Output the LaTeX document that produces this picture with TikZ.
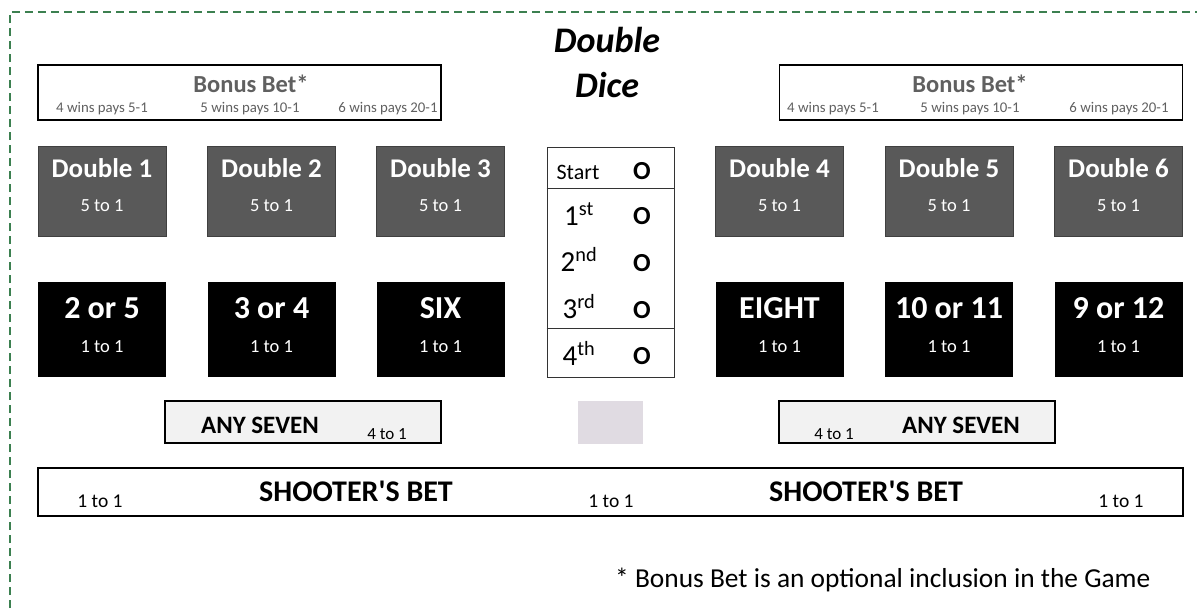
\documentclass[tikz,border=0pt]{standalone}
\usepackage{fontspec}
\setmainfont{Carlito}
\definecolor{tablegreen}{RGB}{60,128,80}
\definecolor{darkcell}{RGB}{89,89,89}
\definecolor{bonustext}{RGB}{96,96,96}
\definecolor{sevenfill}{RGB}{242,242,242}
\definecolor{markfill}{RGB}{224,219,226}

\newcommand{\fs}[1]{\fontsize{#1}{#1}\selectfont}

\tikzset{
  bigbox/.style={draw=black, line width=1.6pt},
  doublecell/.style={draw=black!75, fill=darkcell, line width=1pt, minimum width=128pt, minimum height=90pt},
  numbercell/.style={fill=black, minimum width=128pt, minimum height=95pt},
  celltitle/.style={anchor=base, inner sep=0pt, text=white, font=\bfseries\fs{#1}},
  cellodds/.style={anchor=base, inner sep=0pt, text=white, font=\fs{18.5}},
  plaintext/.style={anchor=base, inner sep=0pt, font=\fs{#1}},
  boldtext/.style={anchor=base, inner sep=0pt, font=\bfseries\fs{#1}},
}

\newcommand{\doublebet}[3]{
            \node[doublecell] (#1) at (#2,191) {};
            \node[celltitle=27] (#1t) at (#2,177) {Double #3};
            \node[cellodds] (#1o) at (#2,211) {5 to 1};
        }
\newcommand{\numberbet}[3]{
            \node[numbercell] (#1) at (#2,329.5) {};
            \node[celltitle=32] (#1t) at (#2,318) {#3};
            \node[cellodds] (#1o) at (#2,352) {1 to 1};
        }
\newcommand{\bonusbox}[5]{
            \node[bigbox, minimum width=403pt, minimum height=55pt] (#1) at (#2,92.5) {};
            \node[boldtext=24.5, text=bonustext] (#1t) at (#3,92) {Bonus Bet*};
            \node[plaintext=14.8, text=bonustext] (#1a) at (#4,112) {4 wins pays 5-1};
            \node[plaintext=14.8, text=bonustext] (#1b) at (#5,112) {5 wins pays 10-1};
        }

\begin{document}
\begin{tikzpicture}[x=1pt, y=-1pt]
        \useasboundingbox (0,0) rectangle (1197,608);
        \draw[tablegreen, line width=1.3pt, dash pattern=on 8pt off 5pt] (10,608) -- (10,12) -- (1197,12);

        % title
        \node[boldtext=36, font=\bfseries\itshape\fs{36}] (title1) at (607,52) {Double};
        \node[boldtext=36, font=\bfseries\itshape\fs{36}] (title2) at (607,97) {Dice};

        % bonus bets
        \bonusbox{bonusL}{239.5}{251}{102}{250}
        \node[plaintext=14.8, text=bonustext] (bonusLc) at (388,112) {6 wins pays 20-1};
        \bonusbox{bonusR}{981}{970}{833}{970}
        \node[plaintext=14.8, text=bonustext] (bonusRc) at (1119,112) {6 wins pays 20-1};

        % doubles
        \doublebet{d1}{102}{1}
        \doublebet{d2}{271.5}{2}
        \doublebet{d3}{440.5}{3}
        \doublebet{d4}{779.5}{4}
        \doublebet{d5}{949}{5}
        \doublebet{d6}{1118.5}{6}

        % numbers
        \numberbet{n1}{102}{2 or 5}
        \numberbet{n2}{271.5}{3 or 4}
        \numberbet{n3}{440.5}{SIX}
        \numberbet{n4}{779.5}{EIGHT}
        \numberbet{n5}{949}{10 or 11}
        \numberbet{n6}{1118.5}{9 or 12}

        % roll track
        \node[draw=black!80, line width=0.8pt, minimum width=127pt, minimum height=230pt] (track) at (610.5,262) {};
        \draw[black!80, line width=1pt] (track.west |- 0,188) -- (track.east |- 0,188);
        \draw[black!80, line width=1pt] (track.west |- 0,328) -- (track.east |- 0,328);
        \node[plaintext=22] (start) at (578,179) {Start};
        \node[boldtext=26] (o0) at (642,179) {O};
        \node[plaintext=29] (r1) at (579,225) {1\textsuperscript{st}};
        \node[boldtext=26] (o1) at (642,224) {O};
        \node[plaintext=29] (r2) at (579,271) {2\textsuperscript{nd}};
        \node[boldtext=26] (o2) at (642,271) {O};
        \node[plaintext=29] (r3) at (579,318) {3\textsuperscript{rd}};
        \node[boldtext=26] (o3) at (642,318) {O};
        \node[plaintext=29] (r4) at (579,365) {4\textsuperscript{th}};
        \node[boldtext=26] (o4) at (642,364) {O};

        % any seven
        \node[bigbox, line width=1.3pt, fill=sevenfill, minimum width=276pt, minimum height=42pt] (sevenL) at (303,422) {};
        \node[boldtext=25] (sevenLt) at (260,433) {ANY SEVEN};
        \node[plaintext=17] (sevenLo) at (387,439) {4 to 1};
        \node[bigbox, line width=1.3pt, fill=sevenfill, minimum width=276pt, minimum height=42pt] (sevenR) at (917,422) {};
        \node[plaintext=17] (sevenRo) at (834,439) {4 to 1};
        \node[boldtext=25] (sevenRt) at (961,433) {ANY SEVEN};
        \node[fill=markfill, minimum width=65pt, minimum height=43pt] (marker) at (610.5,422.5) {};

        % shooter
        \node[bigbox, minimum width=1145pt, minimum height=48pt] (shooter) at (610.5,492) {};
        \node[plaintext=19.5] (s1) at (100,507) {1 to 1};
        \node[boldtext=30] (st1) at (356,501) {SHOOTER\textquotesingle S BET};
        \node[plaintext=19.5] (s2) at (611,507) {1 to 1};
        \node[boldtext=30] (st2) at (866,501) {SHOOTER\textquotesingle S BET};
        \node[plaintext=19.5] (s3) at (1121,507) {1 to 1};

        \node[plaintext=27.4, anchor=base west] (note) at (615,587) {* Bonus Bet is an optional inclusion in the Game};
        \end{tikzpicture}
\end{document}
